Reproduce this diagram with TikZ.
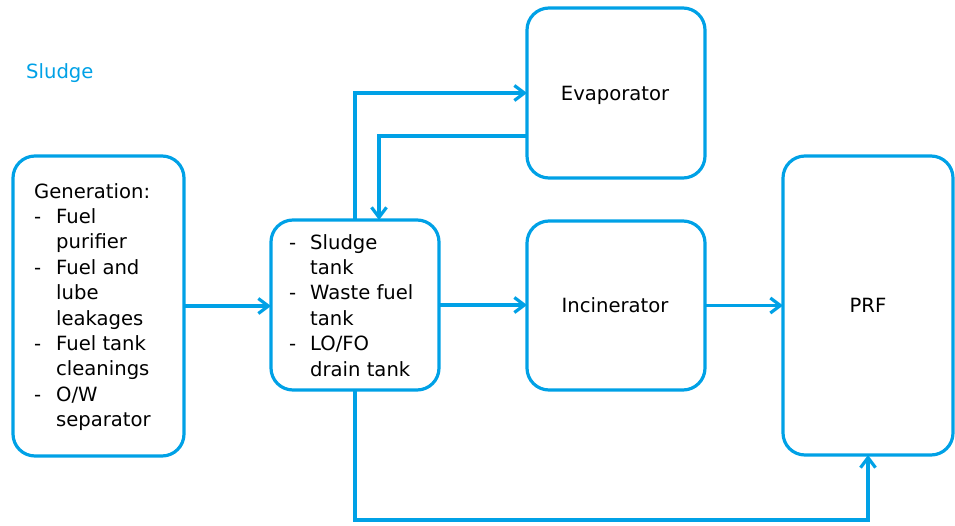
\documentclass[tikz,border=0pt]{standalone}
\usepackage{fontspec}
\setmainfont{DejaVu Sans}
\usetikzlibrary{arrows.meta}
\definecolor{flow}{RGB}{0,161,230}
\newcommand{\itemdash}[1]{\makebox[#1][l]{-}}
\begin{document}
\begin{tikzpicture}[x=1pt,y=-1pt,
  every node/.style={font=\fontsize{19.6}{25.4}\selectfont},
  box/.style={draw=flow, line width=3.2pt, rounded corners=22pt, inner sep=0pt, outer sep=0pt},
  flowline/.style={draw=flow, line width=3.2pt, -{Straight Barb[length=10pt,width=15pt]}},
  listtext/.style={anchor=base west, inner sep=0pt},
  centertext/.style={anchor=base, inner sep=0pt}
]
\useasboundingbox (0,0) rectangle (955,525);

% title
\node[anchor=base west, inner sep=0pt, text=flow] (title) at (26,78) {Sludge};

% boxes
\node[box, minimum width=171pt, minimum height=300pt] (gen)   at (98.5,306) {};
\node[box, minimum width=168pt, minimum height=170pt] (tank)  at (355,305) {};
\node[box, minimum width=178pt, minimum height=170pt] (evap)  at (616,93) {};
\node[box, minimum width=178pt, minimum height=169pt] (incin) at (616,305.5) {};
\node[box, minimum width=170pt, minimum height=299pt] (prf)   at (868,305.5) {};

% box labels
\node[centertext] (evaplabel)  at (615,100) {Evaporator};
\node[centertext] (incinlabel) at (615,312) {Incinerator};
\node[centertext] (prflabel)   at (868,312) {PRF};

% box contents
\node[listtext] (genlist) at (34,198) {\begin{tabular}[t]{@{}l@{}}
Generation:\\
\itemdash{22pt}Fuel\\
\hspace{22pt}purifier\\
\itemdash{22pt}Fuel and\\
\hspace{22pt}lube\\
\hspace{22pt}leakages\\
\itemdash{22pt}Fuel tank\\
\hspace{22pt}cleanings\\
\itemdash{22pt}O/W\\
\hspace{22pt}separator
\end{tabular}};
\node[listtext] (tanklist) at (289,249) {\begin{tabular}[t]{@{}l@{}}
\itemdash{21pt}Sludge\\
\hspace{21pt}tank\\
\itemdash{21pt}Waste fuel\\
\hspace{21pt}tank\\
\itemdash{21pt}LO/FO\\
\hspace{21pt}drain tank
\end{tabular}};

% routing points
\coordinate (ret) at (379,136);
\coordinate (low) at (355,520);

% connectors
\draw[flowline] (gen.east) -- (gen.east -| tank.west);
\draw[flowline] (tank.east) -- (tank.east -| incin.west);
\draw[flowline] (incin.east) -- (incin.east -| prf.west);
\draw[flowline] (tank.north) |- (evap.west);
\draw[flowline] (ret -| evap.west) -| (ret |- tank.north);
\draw[flowline] (tank.south) -- (low) -| (prf.south);
\end{tikzpicture}
\end{document}
